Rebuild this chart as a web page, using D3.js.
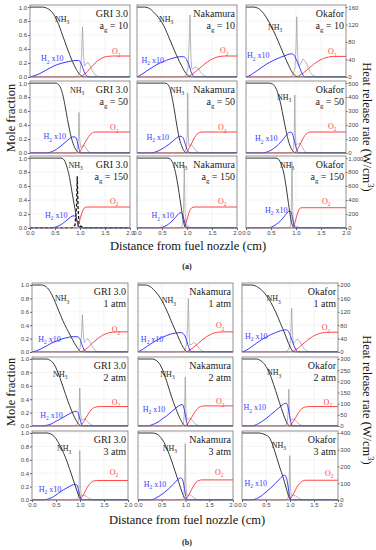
<!DOCTYPE html>
<html>
<head>
<meta charset="utf-8">
<script src="https://cdn.jsdelivr.net/npm/d3@7"></script>
<style>
  html, body { margin: 0; padding: 0; background: #fff; }
  svg { display: block; }
  .tl { font-family: "Liberation Sans", Arial, sans-serif; font-size: 6px; fill: #444; }
</style>
</head>
<body>
<svg id="chart" width="376" height="550"></svg>
<script>
(function () {
  'use strict';

  // ── Data ──────────────────────────────────────────────────────────────────
  // panels 0-8: figure (a), rows a_g = 10/50/150; 9-17: figure (b), rows 1/2/3 atm
  // columns in each row: GRI 3.0, Nakamura, Okafor
  var mechs      = ['GRI 3.0', 'Nakamura', 'Okafor'];
  var strainRate = ['10', '50', '150'];
  var pressure   = ['1 atm', '2 atm', '3 atm'];
  var xTicks     = [0, 0.5, 1, 1.5, 2];
  var moleTicks  = [0, 0.2, 0.4, 0.6, 0.8, 1];
  var hrrTicksA  = [[0, 40, 80, 120, 160], [0, 100, 200, 300, 400, 500], [0, 200, 400, 600, 800, 1000]];
  var hrrTicksB  = [[0, 40, 80, 120, 160, 200], [0, 50, 100, 150, 200, 250, 300], [0, 100, 200, 300, 400]];

  var nh3 = [
    [[0,1],[0.25,1],[0.35,0.98],[0.45,0.92],[0.55,0.79],[0.65,0.6],[0.75,0.4],[0.85,0.22],[0.95,0.08],[1.02,0.02],[1.08,0],[2,0]],
    [[0,1],[0.15,1],[0.25,0.98],[0.33,0.93],[0.43,0.85],[0.53,0.74],[0.66,0.53],[0.79,0.31],[0.9,0.15],[0.98,0.05],[1.04,0.01],[1.08,0],[2,0]],
    [[0,1],[0.15,1],[0.25,0.98],[0.35,0.91],[0.45,0.8],[0.55,0.66],[0.65,0.5],[0.75,0.33],[0.85,0.17],[0.93,0.06],[1.0,0.01],[1.05,0],[2,0]],
    [[0,1],[0.5,1],[0.55,0.99],[0.6,0.95],[0.65,0.85],[0.7,0.68],[0.75,0.48],[0.8,0.3],[0.85,0.16],[0.9,0.07],[0.95,0.02],[1.0,0],[2,0]],
    [[0,1],[0.55,1],[0.6,0.99],[0.65,0.94],[0.7,0.8],[0.75,0.6],[0.8,0.38],[0.85,0.2],[0.9,0.09],[0.95,0.02],[1.0,0],[2,0]],
    [[0,1],[0.45,1],[0.52,0.99],[0.58,0.95],[0.64,0.85],[0.7,0.68],[0.75,0.5],[0.8,0.32],[0.85,0.17],[0.9,0.07],[0.95,0.02],[1.0,0],[2,0]],
    [[0,1],[0.62,1],[0.66,0.99],[0.7,0.95],[0.74,0.87],[0.78,0.76],[0.82,0.6],[0.86,0.43],[0.9,0.27],[0.93,0.14],[0.96,0.05],[0.99,0.01],[1.02,0],[2,0]],
    [[0,1],[0.62,1],[0.66,0.99],[0.7,0.95],[0.74,0.88],[0.78,0.76],[0.82,0.6],[0.86,0.41],[0.9,0.22],[0.93,0.09],[0.96,0.02],[0.99,0],[2,0]],
    [[0,1],[0.6,1],[0.64,0.99],[0.68,0.95],[0.72,0.88],[0.76,0.77],[0.8,0.6],[0.84,0.4],[0.88,0.2],[0.91,0.08],[0.94,0.02],[0.97,0],[2,0]],
    [[0,1],[0.2,1],[0.3,0.97],[0.38,0.9],[0.45,0.8],[0.52,0.68],[0.6,0.54],[0.68,0.41],[0.76,0.3],[0.84,0.19],[0.92,0.09],[0.98,0.03],[1.03,0],[2,0]],
    [[0,1],[0.15,1],[0.25,0.98],[0.33,0.93],[0.43,0.85],[0.53,0.73],[0.63,0.58],[0.73,0.41],[0.83,0.25],[0.92,0.11],[0.99,0.03],[1.04,0],[2,0]],
    [[0,1],[0.2,1],[0.3,0.98],[0.4,0.93],[0.5,0.85],[0.6,0.74],[0.7,0.6],[0.8,0.43],[0.9,0.26],[0.97,0.13],[1.02,0.05],[1.06,0.01],[1.1,0],[2,0]],
    [[0,1],[0.3,1],[0.38,0.98],[0.46,0.92],[0.54,0.8],[0.62,0.64],[0.7,0.47],[0.78,0.31],[0.86,0.17],[0.93,0.07],[0.98,0.02],[1.02,0],[2,0]],
    [[0,1],[0.3,1],[0.38,0.98],[0.46,0.92],[0.54,0.8],[0.62,0.63],[0.7,0.45],[0.78,0.29],[0.86,0.15],[0.93,0.05],[0.98,0.01],[1.02,0],[2,0]],
    [[0,1],[0.3,1],[0.38,0.98],[0.46,0.93],[0.54,0.84],[0.62,0.7],[0.7,0.53],[0.78,0.35],[0.86,0.18],[0.92,0.07],[0.97,0.01],[1.0,0],[2,0]],
    [[0,1],[0.3,1],[0.38,0.99],[0.46,0.95],[0.54,0.87],[0.62,0.76],[0.7,0.63],[0.78,0.47],[0.86,0.3],[0.93,0.15],[0.98,0.05],[1.02,0],[2,0]],
    [[0,1],[0.3,1],[0.38,0.99],[0.46,0.95],[0.54,0.87],[0.62,0.75],[0.7,0.6],[0.78,0.43],[0.86,0.26],[0.93,0.11],[0.98,0.03],[1.02,0],[2,0]],
    [[0,1],[0.35,1],[0.42,0.99],[0.5,0.97],[0.58,0.92],[0.65,0.8],[0.72,0.64],[0.79,0.48],[0.86,0.33],[0.92,0.18],[0.97,0.06],[1.0,0.01],[1.03,0],[2,0]]
  ];

  var h2x10 = [
    [[0,0],[0.1,0.02],[0.2,0.05],[0.3,0.09],[0.4,0.13],[0.5,0.165],[0.6,0.19],[0.7,0.21],[0.8,0.225],[0.9,0.235],[0.97,0.235],[1.02,0.2],[1.06,0.12],[1.1,0.05],[1.15,0.01],[1.2,0],[2,0]],
    [[0,0],[0.1,0.04],[0.2,0.09],[0.3,0.135],[0.4,0.18],[0.53,0.22],[0.65,0.255],[0.75,0.275],[0.85,0.29],[0.93,0.29],[0.99,0.25],[1.04,0.17],[1.08,0.08],[1.12,0.02],[1.16,0],[2,0]],
    [[0,0],[0.1,0.03],[0.2,0.08],[0.3,0.13],[0.4,0.18],[0.5,0.22],[0.6,0.255],[0.7,0.285],[0.8,0.31],[0.88,0.33],[0.93,0.33],[0.98,0.29],[1.03,0.21],[1.08,0.12],[1.13,0.04],[1.18,0],[2,0]],
    [[0,0],[0.3,0],[0.4,0.01],[0.5,0.04],[0.6,0.09],[0.7,0.15],[0.78,0.2],[0.85,0.23],[0.9,0.23],[0.94,0.18],[0.97,0.09],[1.0,0.02],[1.03,0],[2,0]],
    [[0,0],[0.25,0],[0.35,0.01],[0.45,0.04],[0.55,0.08],[0.65,0.13],[0.75,0.19],[0.82,0.23],[0.88,0.24],[0.92,0.22],[0.96,0.14],[1.0,0.05],[1.04,0.01],[1.08,0],[2,0]],
    [[0,0],[0.3,0],[0.4,0.01],[0.5,0.04],[0.6,0.09],[0.7,0.16],[0.78,0.23],[0.85,0.29],[0.9,0.3],[0.94,0.25],[0.98,0.14],[1.02,0.04],[1.06,0],[2,0]],
    [[0,0],[0.4,0],[0.5,0.01],[0.6,0.04],[0.7,0.09],[0.78,0.14],[0.84,0.17],[0.88,0.175],[0.91,0.16],[0.94,0.1],[0.97,0.03],[1.0,0],[2,0]],
    [[0,0],[0.4,0],[0.5,0.01],[0.6,0.04],[0.7,0.1],[0.78,0.16],[0.84,0.21],[0.88,0.22],[0.91,0.2],[0.94,0.12],[0.97,0.04],[1.0,0],[2,0]],
    [[0,0],[0.4,0],[0.5,0.01],[0.6,0.05],[0.7,0.11],[0.78,0.18],[0.84,0.23],[0.87,0.25],[0.9,0.23],[0.93,0.14],[0.96,0.04],[0.99,0],[2,0]],
    [[0,0],[0.1,0.02],[0.2,0.05],[0.3,0.09],[0.4,0.13],[0.5,0.16],[0.6,0.19],[0.7,0.21],[0.8,0.225],[0.9,0.23],[0.96,0.225],[1.0,0.19],[1.04,0.11],[1.08,0.04],[1.12,0.01],[1.16,0],[2,0]],
    [[0,0],[0.1,0.04],[0.2,0.09],[0.3,0.135],[0.4,0.18],[0.5,0.215],[0.6,0.245],[0.7,0.27],[0.8,0.285],[0.9,0.29],[0.96,0.27],[1.01,0.2],[1.05,0.11],[1.09,0.03],[1.13,0],[2,0]],
    [[0,0],[0.1,0.03],[0.2,0.08],[0.3,0.13],[0.4,0.18],[0.5,0.22],[0.6,0.26],[0.7,0.29],[0.8,0.315],[0.88,0.33],[0.93,0.33],[0.98,0.29],[1.03,0.2],[1.08,0.1],[1.13,0.03],[1.18,0],[2,0]],
    [[0,0],[0.2,0],[0.3,0.01],[0.4,0.03],[0.5,0.07],[0.6,0.11],[0.7,0.15],[0.8,0.19],[0.88,0.215],[0.93,0.22],[0.97,0.18],[1.0,0.1],[1.03,0.03],[1.06,0],[2,0]],
    [[0,0],[0.2,0],[0.3,0.02],[0.4,0.05],[0.5,0.1],[0.6,0.15],[0.7,0.21],[0.8,0.27],[0.88,0.31],[0.93,0.32],[0.97,0.26],[1.0,0.15],[1.03,0.05],[1.06,0],[2,0]],
    [[0,0],[0.2,0],[0.3,0.02],[0.4,0.06],[0.5,0.11],[0.6,0.17],[0.7,0.23],[0.8,0.29],[0.87,0.33],[0.92,0.34],[0.96,0.28],[0.99,0.16],[1.02,0.05],[1.05,0],[2,0]],
    [[0,0],[0.25,0],[0.35,0.02],[0.45,0.05],[0.55,0.1],[0.65,0.15],[0.75,0.19],[0.83,0.22],[0.9,0.235],[0.94,0.22],[0.97,0.15],[1.0,0.06],[1.03,0.01],[1.06,0],[2,0]],
    [[0,0],[0.25,0],[0.35,0.02],[0.45,0.06],[0.55,0.11],[0.65,0.17],[0.75,0.24],[0.83,0.3],[0.9,0.33],[0.94,0.3],[0.97,0.2],[1.0,0.08],[1.03,0.01],[1.06,0],[2,0]],
    [[0,0],[0.2,0],[0.3,0.02],[0.4,0.06],[0.5,0.12],[0.6,0.18],[0.7,0.25],[0.78,0.31],[0.85,0.36],[0.89,0.37],[0.93,0.32],[0.96,0.2],[0.99,0.07],[1.02,0.01],[1.05,0],[2,0]]
  ];

  var o2 = [
    [[0,0],[0.98,0],[1.05,0.02],[1.15,0.08],[1.25,0.16],[1.35,0.23],[1.45,0.275],[1.55,0.295],[1.65,0.3],[2,0.3]],
    [[0,0],[0.99,0],[1.06,0.02],[1.16,0.07],[1.26,0.13],[1.36,0.19],[1.46,0.24],[1.56,0.275],[1.66,0.295],[1.75,0.3],[2,0.3]],
    [[0,0],[0.98,0],[1.05,0.015],[1.15,0.06],[1.25,0.12],[1.35,0.18],[1.45,0.23],[1.55,0.265],[1.65,0.285],[1.75,0.295],[2,0.295]],
    [[0,0],[0.96,0],[1.0,0.02],[1.05,0.08],[1.1,0.15],[1.15,0.21],[1.2,0.26],[1.25,0.29],[1.3,0.3],[2,0.3]],
    [[0,0],[0.97,0],[1.0,0.02],[1.05,0.08],[1.1,0.15],[1.15,0.22],[1.2,0.27],[1.25,0.295],[1.3,0.3],[2,0.3]],
    [[0,0],[0.97,0],[1.0,0.02],[1.05,0.08],[1.1,0.15],[1.15,0.22],[1.2,0.27],[1.25,0.295],[1.3,0.3],[2,0.3]],
    [[0,0],[0.92,0],[0.95,0.02],[0.98,0.08],[1.01,0.15],[1.04,0.22],[1.07,0.27],[1.1,0.295],[1.13,0.3],[2,0.3]],
    [[0,0],[0.92,0],[0.95,0.02],[0.98,0.08],[1.01,0.15],[1.04,0.22],[1.07,0.27],[1.1,0.29],[1.14,0.3],[2,0.3]],
    [[0,0],[0.92,0],[0.95,0.02],[0.98,0.08],[1.01,0.16],[1.04,0.23],[1.07,0.275],[1.1,0.29],[1.13,0.29],[2,0.29]],
    [[0,0],[1.0,0],[1.07,0.02],[1.17,0.07],[1.27,0.14],[1.37,0.2],[1.47,0.25],[1.57,0.28],[1.67,0.295],[1.77,0.3],[2,0.3]],
    [[0,0],[1.0,0],[1.07,0.02],[1.17,0.07],[1.27,0.13],[1.37,0.19],[1.47,0.24],[1.57,0.275],[1.67,0.295],[1.77,0.3],[2,0.3]],
    [[0,0],[1.0,0],[1.07,0.015],[1.17,0.06],[1.27,0.12],[1.37,0.18],[1.47,0.23],[1.57,0.265],[1.67,0.285],[1.77,0.295],[2,0.295]],
    [[0,0],[0.99,0],[1.03,0.02],[1.08,0.07],[1.13,0.13],[1.18,0.19],[1.23,0.24],[1.28,0.27],[1.34,0.285],[1.4,0.29],[2,0.29]],
    [[0,0],[0.99,0],[1.03,0.02],[1.08,0.07],[1.13,0.13],[1.18,0.19],[1.23,0.24],[1.28,0.275],[1.34,0.295],[1.4,0.3],[2,0.3]],
    [[0,0],[0.98,0],[1.02,0.02],[1.07,0.07],[1.12,0.13],[1.17,0.19],[1.22,0.24],[1.27,0.27],[1.33,0.285],[1.4,0.29],[2,0.29]],
    [[0,0],[0.99,0],[1.03,0.03],[1.08,0.09],[1.13,0.16],[1.18,0.22],[1.23,0.26],[1.28,0.285],[1.34,0.29],[2,0.29]],
    [[0,0],[0.99,0],[1.03,0.03],[1.08,0.09],[1.13,0.16],[1.18,0.22],[1.23,0.27],[1.28,0.29],[1.34,0.3],[2,0.3]],
    [[0,0],[0.98,0],[1.02,0.03],[1.07,0.09],[1.12,0.16],[1.17,0.22],[1.22,0.26],[1.27,0.285],[1.33,0.295],[2,0.295]]
  ];

  // heat release rate, W/cm3 (right axis)
  var hrr = [
    [[0,0],[0.85,0],[0.95,2],[1.0,10],[1.03,45],[1.05,115],[1.07,50],[1.09,25],[1.12,30],[1.16,33],[1.2,26],[1.25,14],[1.3,5],[1.36,1],[1.45,0],[2,0]],
    [[0,0],[0.9,0],[0.98,3],[1.02,20],[1.045,80],[1.06,142],[1.075,60],[1.09,20],[1.12,18],[1.17,23],[1.22,20],[1.28,10],[1.34,3],[1.4,0],[2,0]],
    [[0,0],[0.86,0],[0.93,3],[0.98,20],[1.0,70],[1.015,138],[1.03,60],[1.05,25],[1.09,30],[1.14,41],[1.19,36],[1.24,22],[1.29,10],[1.34,3],[1.42,0],[2,0]],
    [[0,0],[0.85,0],[0.92,5],[0.95,30],[0.97,120],[0.98,290],[0.99,120],[1.01,40],[1.04,50],[1.08,55],[1.12,35],[1.16,12],[1.2,3],[1.25,0],[2,0]],
    [[0,0],[0.88,0],[0.95,5],[0.99,40],[1.005,150],[1.015,430],[1.025,150],[1.04,50],[1.07,55],[1.1,58],[1.14,38],[1.18,15],[1.23,3],[1.28,0],[2,0]],
    [[0,0],[0.85,0],[0.92,5],[0.955,40],[0.965,150],[0.975,415],[0.985,150],[1.0,60],[1.04,65],[1.08,70],[1.12,45],[1.16,18],[1.2,5],[1.25,0],[2,0]],
    [[0,0],[0.8,0],[0.86,5],[0.9,40],[0.93,300],[0.945,740],[0.96,300],[0.98,60],[1.0,30],[1.03,20],[1.06,8],[1.1,0],[2,0]],
    [[0,0],[0.82,0],[0.88,5],[0.91,40],[0.93,250],[0.945,900],[0.96,250],[0.98,50],[1.0,30],[1.03,25],[1.06,10],[1.1,0],[2,0]],
    [[0,0],[0.8,0],[0.86,5],[0.89,40],[0.905,250],[0.92,950],[0.935,250],[0.95,50],[0.98,30],[1.02,20],[1.06,8],[1.1,0],[2,0]],
    [[0,0],[0.85,0],[0.95,2],[1.0,10],[1.03,45],[1.05,112],[1.07,50],[1.09,28],[1.12,35],[1.16,40],[1.2,32],[1.25,18],[1.3,7],[1.36,1],[1.45,0],[2,0]],
    [[0,0],[0.9,0],[0.98,3],[1.02,20],[1.045,80],[1.06,160],[1.075,60],[1.09,22],[1.12,22],[1.17,28],[1.22,24],[1.28,12],[1.34,4],[1.4,0],[2,0]],
    [[0,0],[0.88,0],[0.95,3],[1.0,20],[1.02,70],[1.035,131],[1.05,60],[1.07,25],[1.1,30],[1.15,38],[1.2,33],[1.25,20],[1.3,9],[1.35,3],[1.42,0],[2,0]],
    [[0,0],[0.85,0],[0.92,3],[0.96,15],[0.98,60],[0.995,170],[1.01,60],[1.03,25],[1.06,30],[1.1,32],[1.15,22],[1.2,10],[1.26,3],[1.32,0],[2,0]],
    [[0,0],[0.85,0],[0.92,3],[0.96,15],[0.98,70],[0.995,220],[1.01,70],[1.03,28],[1.06,32],[1.1,35],[1.15,24],[1.2,10],[1.26,3],[1.32,0],[2,0]],
    [[0,0],[0.82,0],[0.9,3],[0.94,15],[0.96,60],[0.975,165],[0.99,60],[1.01,25],[1.04,30],[1.08,32],[1.13,22],[1.18,10],[1.24,3],[1.3,0],[2,0]],
    [[0,0],[0.85,0],[0.92,3],[0.96,15],[0.98,70],[0.995,296],[1.01,70],[1.03,25],[1.06,28],[1.1,28],[1.15,18],[1.2,8],[1.26,2],[1.32,0],[2,0]],
    [[0,0],[0.85,0],[0.92,3],[0.96,15],[0.98,80],[0.995,336],[1.01,80],[1.03,28],[1.06,30],[1.1,30],[1.15,20],[1.2,8],[1.26,2],[1.32,0],[2,0]],
    [[0,0],[0.85,0],[0.92,3],[0.96,15],[0.98,70],[0.995,265],[1.01,70],[1.03,25],[1.06,28],[1.1,28],[1.15,18],[1.2,8],[1.26,2],[1.32,0],[2,0]]
  ];

  // where the species names sit, in data units [x cm, mole fraction]
  var nh3Lab = [[0.5,0.83],[0.44,0.83],[0.44,0.72],[0.8,0.9],[0.66,0.9],[0.62,0.8],[0.77,0.9],[0.72,0.9],[0.68,0.9],
                [0.48,0.8],[0.5,0.77],[0.51,0.8],[0.44,0.78],[0.47,0.78],[0.52,0.8],[0.52,0.77],[0.52,0.78],[0.62,0.82]];
  var h2Lab  = [[0.22,0.27],[0.09,0.25],[0.02,0.31],[0.27,0.24],[0.19,0.23],[0.18,0.21],[0.3,0.19],[0.29,0.18],[0.38,0.26],
                [0.13,0.2],[0.06,0.2],[0.06,0.24],[0.17,0.17],[0.1,0.26],[0.03,0.28],[0.14,0.17],[0.12,0.24],[0.05,0.26]];
  var o2Lab  = [[1.64,0.37],[1.66,0.38],[1.64,0.37],[1.6,0.37],[1.62,0.37],[1.64,0.39],[1.6,0.39],[1.62,0.39],[1.52,0.39],
                [1.66,0.34],[1.64,0.4],[1.66,0.37],[1.66,0.36],[1.64,0.37],[1.7,0.36],[1.62,0.42],[1.62,0.42],[1.73,0.41]];

  // ── Layout ────────────────────────────────────────────────────────────────
  var figs = [
    { first: 0, cols: [[30,130],[137,237],[246,346]], rows: [[5,77],[81,153],[156,228]],
      cond: strainRate, hrrTicks: hrrTicksA,
      mole: [11,118], heat: [367,127], dist: [188,250], tag: ['(a)',269] },
    { first: 9, cols: [[32,128],[138,233],[242,338]], rows: [[283,352],[357,426],[431,500]],
      cond: pressure, hrrTicks: hrrTicksB,
      mole: [11,392], heat: [367,400], dist: [187,524], tag: ['(b)',545] }
  ];

  var C_NH3 = '#3a3a3a', C_H2 = '#3b3bff', C_O2 = '#ff4444', C_HRR = '#9a9a9a';
  var svg = d3.select('#chart');
  var SERIF = '"Liberation Serif","Times New Roman",serif';

  // text with sub/superscripts: '_x' = subscript part, '^x' = superscript part
  function rich(parent, x, y, parts, size, color, anchor) {
    var t = parent.append('text').attr('x', x).attr('y', y)
      .attr('font-family', SERIF).attr('font-size', size).attr('fill', color)
      .attr('text-anchor', anchor || 'start');
    var shift = 0;
    parts.forEach(function (p) {
      var kind = p.charAt(0);
      var target = 0, str = p;
      if (kind === '_') { target = size * 0.3;  str = p.slice(1); }
      if (kind === '^') { target = -size * 0.4; str = p.slice(1); }
      var s = t.append('tspan').text(str).attr('dy', target - shift);
      if (target !== 0) s.attr('font-size', size * 0.68);
      shift = target;
    });
    return t;
  }

  var clipId = 0;

  figs.forEach(function (f) {
    for (var r = 0; r < 3; r++) {
      for (var c = 0; c < 3; c++) {
        var i = f.first + r * 3 + c;
        var x0 = f.cols[c][0], x1 = f.cols[c][1];
        var top = f.rows[r][0], bot = f.rows[r][1];
        var ticksR = f.hrrTicks[r];
        var hMax = ticksR[ticksR.length - 1];

        var x  = d3.scaleLinear().domain([0, 2]).range([x0, x1]);
        var y  = d3.scaleLinear().domain([0, 1.03]).range([bot, top]);
        var yh = d3.scaleLinear().domain([0, hMax * 1.03]).range([bot, top]);

        var g = svg.append('g');
        var cid = 'clip' + (clipId++);
        g.append('clipPath').attr('id', cid).append('rect')
          .attr('x', x0).attr('y', top - 1).attr('width', x1 - x0).attr('height', bot - top + 1.5);

        // light grid
        g.append('g').selectAll('line').data([0.5, 1, 1.5]).join('line')
          .attr('x1', x).attr('x2', x).attr('y1', top).attr('y2', bot)
          .attr('stroke', '#ececec').attr('stroke-width', 0.6);
        g.append('g').selectAll('line').data([0.2, 0.4, 0.6, 0.8, 1]).join('line')
          .attr('y1', y).attr('y2', y).attr('x1', x0).attr('x2', x1)
          .attr('stroke', '#ececec').attr('stroke-width', 0.6);

        var plot = g.append('g').attr('clip-path', 'url(#' + cid + ')');
        var smooth = d3.line().x(function (d) { return x(d[0]); }).y(function (d) { return y(d[1]); })
          .curve(d3.curveMonotoneX);
        var spike = d3.line().x(function (d) { return x(d[0]); }).y(function (d) { return yh(d[1]); });

        var dashed = (i === 6);
        plot.append('path').attr('d', spike(hrr[i])).attr('fill', 'none')
          .attr('stroke', dashed ? '#111' : C_HRR)
          .attr('stroke-width', dashed ? 1.3 : 0.7)
          .attr('stroke-dasharray', dashed ? '3,2' : null);
        plot.append('path').attr('d', smooth(o2[i])).attr('fill', 'none').attr('stroke', C_O2).attr('stroke-width', 1);
        plot.append('path').attr('d', smooth(h2x10[i])).attr('fill', 'none').attr('stroke', C_H2).attr('stroke-width', 1);
        plot.append('path').attr('d', smooth(nh3[i])).attr('fill', 'none').attr('stroke', C_NH3).attr('stroke-width', 1);

        // frame
        g.append('rect').attr('x', x0).attr('y', top).attr('width', x1 - x0).attr('height', bot - top)
          .attr('fill', 'none').attr('stroke', '#777').attr('stroke-width', 0.8);

        // species labels
        rich(g, x(nh3Lab[i][0]), y(nh3Lab[i][1]) + 3, ['NH', '_3'], 8, '#222');
        rich(g, x(h2Lab[i][0]),  y(h2Lab[i][1]) + 3,  ['H', '_2', ' x10'], 8, C_H2);
        rich(g, x(o2Lab[i][0]),  y(o2Lab[i][1]) + 3,  ['O', '_2'], 8, C_O2);

        // mechanism / condition
        rich(g, x1 - 2, top + 12, [mechs[c]], 10, '#222', 'end');
        if (f.first === 0) rich(g, x1 - 2, top + 24, ['a', '_g', ' = ' + f.cond[r]], 10, '#222', 'end');
        else rich(g, x1 - 2, top + 24, [f.cond[r]], 10, '#222', 'end');

        // axes
        if (c === 0) {
          var ay = g.append('g').attr('transform', 'translate(' + x0 + ',0)')
            .call(d3.axisLeft(y).tickValues(moleTicks).tickFormat(d3.format('.1f')).tickSize(2).tickPadding(1));
          ay.select('.domain').remove();
          ay.selectAll('line').attr('stroke', '#666');
          ay.selectAll('text').attr('class', 'tl');
        }
        if (c === 2) {
          var ar = g.append('g').attr('transform', 'translate(' + x1 + ',0)')
            .call(d3.axisRight(yh).tickValues(ticksR).tickSize(1.5).tickPadding(0.8));
          ar.select('.domain').remove();
          ar.selectAll('line').attr('stroke', '#666');
          ar.selectAll('text').attr('class', 'tl');
        }
        if (r === 2) {
          var ax = g.append('g').attr('transform', 'translate(0,' + bot + ')')
            .call(d3.axisBottom(x).tickValues(xTicks).tickFormat(d3.format('.1f')).tickSize(2).tickPadding(1));
          ax.select('.domain').remove();
          ax.selectAll('line').attr('stroke', '#666');
          ax.selectAll('text').attr('class', 'tl');
        }
      }
    }

    // figure titles
    svg.append('text').attr('transform', 'translate(' + f.mole[0] + ',' + f.mole[1] + ') rotate(-90)')
      .attr('text-anchor', 'middle').attr('dominant-baseline', 'central')
      .attr('font-family', SERIF).attr('font-size', 12.5).attr('fill', '#111').text('Mole fraction');

    var ht = svg.append('g').attr('transform', 'translate(' + f.heat[0] + ',' + f.heat[1] + ') rotate(90)');
    rich(ht, 0, 4, ['Heat release rate (W/cm', '^3', ')'], 12.5, '#111', 'middle');

    svg.append('text').attr('x', f.dist[0]).attr('y', f.dist[1]).attr('text-anchor', 'middle')
      .attr('font-family', SERIF).attr('font-size', 12.5).attr('fill', '#111')
      .text('Distance from fuel nozzle (cm)');
    svg.append('text').attr('x', 187).attr('y', f.tag[1]).attr('text-anchor', 'middle')
      .attr('font-family', SERIF).attr('font-size', 8).attr('font-weight', 'bold').attr('fill', '#222')
      .text(f.tag[0]);
  });
})();
</script>
</body>
</html>
